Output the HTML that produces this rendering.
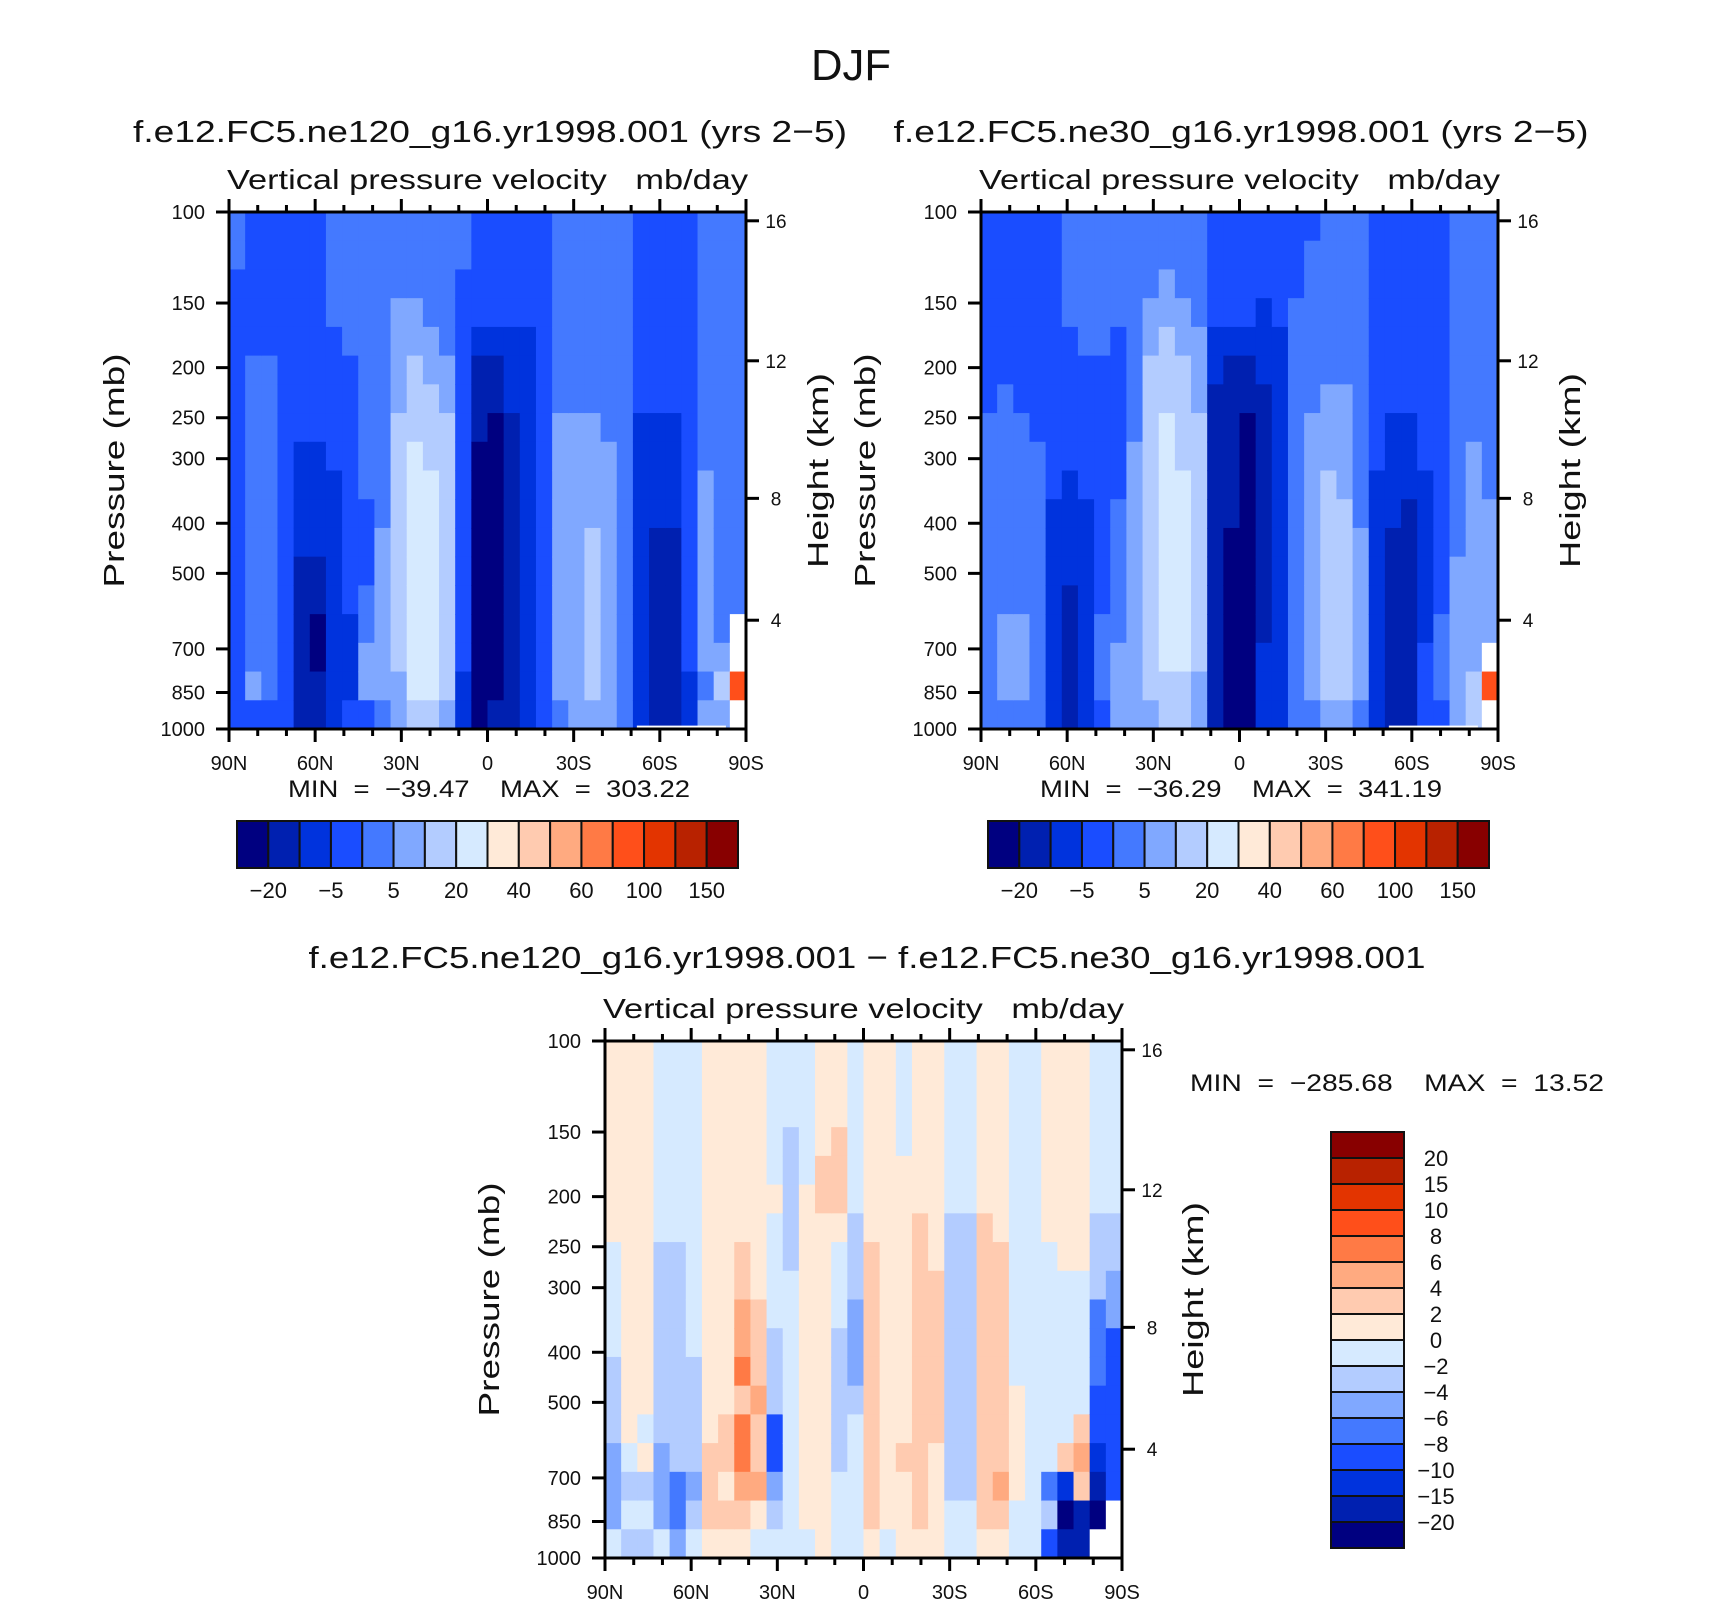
<!DOCTYPE html>
<html>
<head>
<meta charset="utf-8">
<style>
  html,body{margin:0;padding:0;background:#fff;}
  svg{display:block;}
  text{font-family:"Liberation Sans",sans-serif;fill:#111;white-space:pre;}
</style>
</head>
<body>
<svg id="fig" xmlns="http://www.w3.org/2000/svg" width="1710" height="1601" viewBox="0 0 1710 1601">
  <rect x="0" y="0" width="1710" height="1601" fill="#fff"/>
  <text x="851" y="80" font-size="44" text-anchor="middle" textLength="80" lengthAdjust="spacingAndGlyphs">DJF</text>
  <text x="490" y="142" font-size="31" text-anchor="middle" textLength="714" lengthAdjust="spacingAndGlyphs">f.e12.FC5.ne120_g16.yr1998.001 (yrs 2−5)</text>
  <text x="1241" y="142" font-size="31" text-anchor="middle" textLength="695" lengthAdjust="spacingAndGlyphs">f.e12.FC5.ne30_g16.yr1998.001 (yrs 2−5)</text>
  <text x="867" y="968" font-size="31" text-anchor="middle" textLength="1117" lengthAdjust="spacingAndGlyphs">f.e12.FC5.ne120_g16.yr1998.001 − f.e12.FC5.ne30_g16.yr1998.001</text>
  <g id="layer"></g>
</svg>
<script>
// ---------- data ----------
const panel1Columns = [
"443333333333333333","333334444444444453","333334444444444443","333333333333333333",
"333333332222111111","333333332222110011","444433333222222222","444443333333332223",
"444444444433344553","444444444445555554","444555566666666655","444556667777777776",
"444455666777777776","444445566666666665","443333333333333322","333321110000000000",
"333321100000000001","333322211111111111","333322222222222222","333333333333333333",
"444444455555555554","444444455555555555","444444455556666665","444444445555555555",
"444444444444444444","333333322222222222","333333322221111111","333333322221111111",
"333333333333333322","444444444555555545","444444444444444565","44444444444444..c."
];
const panel2Columns = [
"333333344444444444","333333444444445554","333333344444445554","333333334444444444",
"333333333322222222","444433333222211111","444443333322222222","444443333333334443",
"444433333344444555","444444445555555555","444556666666666665","445566677777777766",
"444556666777777766","444455566666666655","333322111111111111","333321111110000000",
"333321100000000000","333222111111111222","333322222222222222","333444444444444444",
"344444455555555554","444444555666666665","444444555566666665","444444444445555554",
"333333333222222222","333333322221111111","333333322211111111","333333333222222333",
"333333333333334443","444444444444555555","444444445555555566","444444444455555.c."
];
const panel3Columns = [
"888888877776665557","888888888888887676","888888888888878676","777777766666665557",
"777777766666666445","777777777776666567","888888888888889998","888888888888899898",
"888888899aab9bba98","888888888999a99a87","777778777766633567","777666667777777777",
"777778888888888887","888899888888888888","888999877766666777","777777666555677777",
"888888899999999998","888888888888888887","777788888888889888","888888999999999998",
"888888889999998888","777777666666666677","777777666666666677","888888999999999998",
"888888899999999a98","777777777777888877","777777777777777777","888888877777777463",
"888888887777779201","88888888777779a911","77777766644433210.","7777776655333333.."
];
const levelColors = ["#000080","#0020b0","#0033dd","#1a4dff","#4479ff","#80a8ff","#b3ccff","#d6eaff",
                     "#ffead8","#ffcbb0","#ffaa80","#ff7a45","#ff4f1a","#e33400","#b82200","#880000"];
const cb12Labels = ["−20","−5","5","20","40","60","100","150"];
const cb3Labels = ["20","15","10","8","6","4","2","0","−2","−4","−6","−8","−10","−15","−20"];
const pressureTicks = [100,150,200,250,300,400,500,700,850,1000];
const heightTickLabels = ["16","12","8","4"];
const heightTickPressures = [104,194,358,616];
const latTicks = [90,60,30,0,-30,-60,-90];
const latTickLabels = ["90N","60N","30N","0","30S","60S","90S"];
const stats = [{min:"−39.47",max:"303.22"},{min:"−36.29",max:"341.19"},{min:"−285.68",max:"13.52"}];

// ---------- helpers ----------
const NS = "http://www.w3.org/2000/svg";
const layer = document.getElementById('layer');
function mk(tag, attrs, parent){
  const e = document.createElementNS(NS, tag);
  for (const k in attrs) e.setAttribute(k, attrs[k]);
  (parent||layer).appendChild(e);
  return e;
}
function makeAxes(L, T, W, H){
  return {
    x: lat => L + (90 - lat) / 180 * W,
    y: p => T + Math.log10(p / 100) * H,
    L, T, W, H
  };
}

function drawField(ax, cols, name){
  const g = mk('g', {});
  
  
  const nc = cols.length, nr = cols[0].length;
  for (let c = 0; c < nc; c++){
    const lat0 = 90 - c * 180 / nc, lat1 = 90 - (c + 1) * 180 / nc;
    for (let r = 0; r < nr; r++){
      const ch = cols[c][r];
      const p0 = 100 * Math.pow(10, r / nr), p1 = 100 * Math.pow(10, (r + 1) / nr);
      const x0 = ax.x(lat0), x1 = ax.x(lat1), y0 = ax.y(p0), y1 = ax.y(p1);
      const fill = ch === '.' ? '#ffffff' : levelColors[parseInt(ch, 16)];
      const rc = mk('rect', {x:x0, y:y0, width:(x1 - x0) + 0.6, height:(y1 - y0) + 0.6, fill:fill}, g);
      
      
    }
  }
}

function drawAxes(ax, name, labelOpts){
  const g = mk('g', {});
  
  
  const B = ax.T + ax.H, R = ax.L + ax.W;
  const fr = mk('rect', {x:ax.L, y:ax.T, width:ax.W, height:ax.H, fill:'none', stroke:'#000', 'stroke-width':3}, g);
  
  
  for (let lat = 90; lat >= -90; lat -= 10){
    const major = lat % 30 === 0;
    const len = major ? 13 : 7;
    const x = ax.x(lat);
    const t1 = mk('line', {x1:x, x2:x, y1:B, y2:B + len, stroke:'#000', 'stroke-width':3}, g);
    
    
    const t2 = mk('line', {x1:x, x2:x, y1:ax.T, y2:ax.T - len, stroke:'#000', 'stroke-width':3}, g);
    
    
  }
  latTicks.forEach((lat, i) => {
    const t = mk('text', {x:ax.x(lat), y:B + 41, 'font-size':20, 'text-anchor':'middle'}, g);
    t.textContent = latTickLabels[i];
    
    
  });
  pressureTicks.forEach(p => {
    const y = ax.y(p);
    const tk = mk('line', {x1:ax.L - 13, x2:ax.L, y1:y, y2:y, stroke:'#000', 'stroke-width':3}, g);
    
    
    const t = mk('text', {x:ax.L - 24, y:y + 7, 'font-size':20, 'text-anchor':'end'}, g);
    t.textContent = String(p);
    
    
  });
  heightTickPressures.forEach((p, i) => {
    const y = ax.y(p);
    const tk = mk('line', {x1:R, x2:R + 13, y1:y, y2:y, stroke:'#000', 'stroke-width':3}, g);
    
    
    const t = mk('text', {x:R + 30, y:y + 7, 'font-size':19, 'text-anchor':'middle'}, g);
    t.textContent = heightTickLabels[i];
    
    
  });
  const st = mk('text', {x:ax.L + ax.W / 2, y:ax.T - 23, 'font-size':28, 'text-anchor':'middle', textLength:ax.W + 4, lengthAdjust:'spacingAndGlyphs'}, g);
  st.textContent = 'Vertical pressure velocity   mb/day';
  
  
  const cy = ax.T + ax.H / 2;
  const pt = mk('text', {x:0, y:0, 'font-size':29, 'text-anchor':'middle', textLength:234, lengthAdjust:'spacingAndGlyphs', transform:`translate(${labelOpts.px},${cy}) rotate(-90)`}, g);
  pt.textContent = 'Pressure (mb)';
  
  
  const ht = mk('text', {x:0, y:0, 'font-size':29, 'text-anchor':'middle', textLength:195, lengthAdjust:'spacingAndGlyphs', transform:`translate(${labelOpts.hx},${cy}) rotate(-90)`}, g);
  ht.textContent = 'Height (km)';
  
  
}

function drawHBar(L, T, W, H, name){
  const g = mk('g', {});
  
  
  const n = levelColors.length, bw = W / n;
  levelColors.forEach((c, i) => {
    const r = mk('rect', {x:L + i * bw, y:T, width:bw, height:H, fill:c, stroke:'#111', 'stroke-width':2}, g);
    
    
  });
  cb12Labels.forEach((s, i) => {
    const t = mk('text', {x:L + (2 * i + 1) * bw, y:T + H + 30, 'font-size':22, 'text-anchor':'middle'}, g);
    t.textContent = s;
    
    
  });
}
function drawVBar(L, T, W, H, name){
  const g = mk('g', {});
  
  
  const n = levelColors.length, bh = H / n;
  levelColors.forEach((c, i) => {
    const r = mk('rect', {x:L, y:T + (n - 1 - i) * bh, width:W, height:bh, fill:c, stroke:'#111', 'stroke-width':2}, g);
    
    
  });
  cb3Labels.forEach((s, i) => {
    const t = mk('text', {x:L + W + 32, y:T + (i + 1) * bh + 8, 'font-size':22, 'text-anchor':'middle'}, g);
    t.textContent = s;
    
    
  });
}
function drawStats(x, y, w, s, name){
  const t = mk('text', {x:x, y:y, 'font-size':24, 'text-anchor':'middle', textLength:w, lengthAdjust:'spacingAndGlyphs'});
  t.textContent = 'MIN  =  ' + s.min + '    MAX  =  ' + s.max;
  
  
}
function missingStrip(ax, name){
  const r = mk('rect', {x:ax.x(-52), y:ax.y(985), width:ax.x(-83) - ax.x(-52), height:ax.y(1000) - ax.y(985), fill:'#fff'});
  
  
}

// ---------- panels ----------
const ax1 = makeAxes(229, 212, 517, 517);
const ax2 = makeAxes(981, 212, 517, 517);
const ax3 = makeAxes(605, 1041, 517, 517);

drawField(ax1, panel1Columns, 'panel1');
missingStrip(ax1, 'panel1-missing');
drawAxes(ax1, 'panel1', {px:124, hx:828});
drawField(ax2, panel2Columns, 'panel2');
missingStrip(ax2, 'panel2-missing');
drawAxes(ax2, 'panel2', {px:875, hx:1580});
drawField(ax3, panel3Columns, 'panel3');
drawAxes(ax3, 'panel3', {px:499, hx:1203});

drawStats(489, 797, 402, stats[0], 'panel1-min-max');
drawStats(1241, 797, 402, stats[1], 'panel2-min-max');
drawStats(1397, 1091, 414, stats[2], 'panel3-min-max');

drawHBar(237, 821, 501, 47, 'panel1-colorbar');
drawHBar(988, 821, 501, 47, 'panel2-colorbar');
drawVBar(1331, 1132, 73, 416, 'panel3-colorbar');
</script>
</body>
</html>
